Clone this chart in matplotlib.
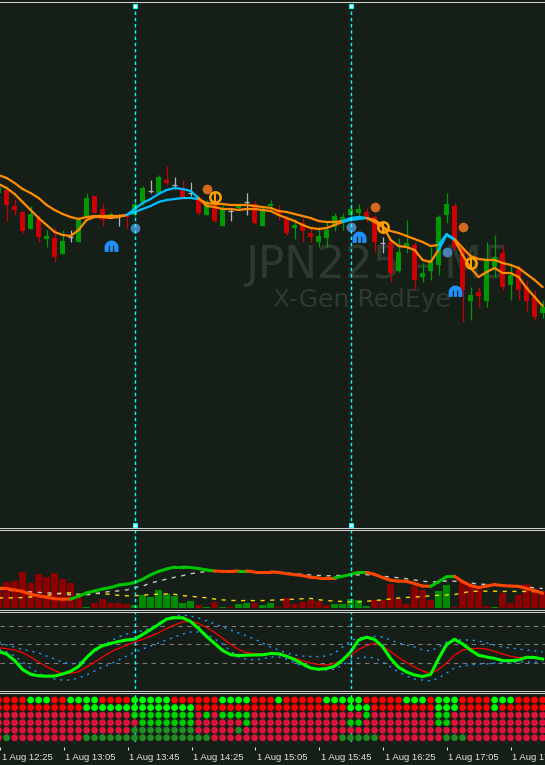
import numpy as np
import matplotlib
matplotlib.use('Agg')
import matplotlib.pyplot as plt
from matplotlib.collections import LineCollection
from matplotlib.path import Path
from matplotlib.lines import Line2D
import matplotlib.transforms as mtransforms

W, H = 545, 765
BG = '#161f17'

# ---------------- data ----------------
tick_bars = [0, 8, 16, 24, 32, 40, 48, 56, 64]
tick_labels = ['1 Aug 12:25', '1 Aug 13:05', '1 Aug 13:45', '1 Aug 14:25', '1 Aug 15:05',
               '1 Aug 15:45', '1 Aug 16:25', '1 Aug 17:05', '1 Aug 17:45']
vline_bars = [17, 44]

opens = [27807, 27810, 27794, 27788, 27771, 27781, 27761, 27762, 27746, 27763,
         27758, 27784, 27804, 27791, 27784, 27784, 27786, 27785, 27798, 27809,
         27807, 27820, 27815, 27811, 27807, 27801, 27785, 27795, 27774, 27789,
         27792, 27798, 27796, 27774, 27794, 27790, 27781, 27772, 27777, 27767,
         27758, 27762, 27773, 27779, 27785, 27787, 27788, 27783, 27757, 27758,
         27729, 27753, 27755, 27723, 27729, 27735, 27785, 27794, 27752, 27699,
         27708, 27699, 27733, 27747, 27715, 27731, 27713, 27703, 27687]
highs = [27816, 27810, 27801, 27789, 27794, 27785, 27770, 27772, 27770, 27770,
         27782, 27807, 27804, 27796, 27788, 27786, 27787, 27800, 27814, 27820,
         27825, 27834, 27823, 27820, 27818, 27803, 27800, 27797, 27795, 27791,
         27796, 27807, 27799, 27794, 27800, 27795, 27784, 27781, 27782, 27773,
         27773, 27779, 27787, 27787, 27796, 27796, 27792, 27785, 27763, 27760,
         27762, 27780, 27758, 27737, 27753, 27785, 27807, 27797, 27753, 27713,
         27713, 27758, 27765, 27755, 27737, 27735, 27720, 27710, 27700]
lows = [27804, 27779, 27785, 27767, 27771, 27758, 27753, 27738, 27746, 27758,
        27758, 27784, 27787, 27774, 27782, 27774, 27772, 27784, 27795, 27807,
        27807, 27815, 27811, 27802, 27804, 27785, 27785, 27778, 27774, 27779,
        27790, 27785, 27776, 27774, 27793, 27780, 27765, 27761, 27758, 27758,
        27753, 27753, 27769, 27770, 27783, 27783, 27778, 27748, 27747, 27718,
        27728, 27747, 27710, 27718, 27720, 27725, 27777, 27750, 27678, 27680,
        27693, 27693, 27723, 27710, 27700, 27700, 27688, 27680, 27682]
closes = [27813, 27795, 27790, 27769, 27786, 27763, 27764, 27743, 27759, 27763,
          27780, 27802, 27787, 27780, 27786, 27784, 27783, 27796, 27812, 27809,
          27823, 27817, 27815, 27803, 27807, 27787, 27797, 27779, 27792, 27789,
          27795, 27798, 27777, 27790, 27796, 27785, 27767, 27775, 27769, 27763,
          27764, 27770, 27784, 27783, 27791, 27791, 27782, 27758, 27757, 27727,
          27748, 27757, 27720, 27727, 27740, 27783, 27796, 27753, 27710, 27705,
          27704, 27740, 27743, 27713, 27725, 27710, 27699, 27683, 27693]

slow_ma = [27825, 27822, 27817, 27811, 27807, 27802, 27795, 27790, 27786, 27783,
           27781, 27783, 27784, 27784, 27784, 27784, 27785, 27788, 27791, 27794,
           27798, 27800, 27801, 27802, 27802, 27801, 27797, 27796, 27796, 27795,
           27795, 27795, 27794, 27793, 27792, 27789, 27788, 27786, 27784, 27782,
           27779, 27778, 27778, 27779, 27782, 27783, 27782, 27778, 27773, 27769,
           27767, 27764, 27761, 27758, 27754, 27755, 27766, 27761, 27752, 27744,
           27741, 27740, 27740, 27737, 27735, 27732, 27726, 27720, 27713]
fast_ma = [27816, 27812, 27806, 27798, 27790, 27782, 27775, 27768, 27765, 27764,
           27770, 27780, 27783, 27783, 27782, 27783, 27785, 27791, 27797, 27801,
           27806, 27810, 27812, 27811, 27809, 27802, 27794, 27793, 27791, 27791,
           27790, 27791, 27791, 27790, 27789, 27785, 27782, 27779, 27775, 27772,
           27771, 27772, 27775, 27778, 27780, 27781, 27782, 27780, 27775, 27760,
           27754, 27753, 27750, 27740, 27738, 27750, 27765, 27760, 27745, 27732,
           27723, 27728, 27732, 27727, 27727, 27723, 27712, 27703, 27694]
ma_up_ranges = [(16, 25), (43, 46), (55, 57)]

buy_dot_bars = [17, 44, 56]
buy_dot_prices = [27772, 27773, 27748]
sell_dot_bars = [26, 47, 58]
sell_dot_prices = [27811, 27793, 27773]
ring_bars = [27, 48, 59]
ring_prices = [27803, 27773, 27737]
arch_bars = [14, 45, 57]
arch_prices = [27753, 27762, 27708]

# sub window 1
hist = [17.4, 26.4, 27.5, 36.8, 25.4, 34.8, 31.6, 35.8, 29.5, 25.4,
        10.8, 1.4, 5.6, 9.7, 5.6, 5.6, 4.2, 3.5, 12.9, 10.8,
        18.1, 13.9, 11.8, 5.6, 7.6, 3.5, 1.4, 6.6, 1, 1,
        4.5, 5.6, 5.6, 3.5, 5.6, 1, 10.4, 4.2, 6.6, 8.7,
        7.3, 3.5, 4.2, 4.2, 9.4, 8.3, 2.1, 8.3, 8.3, 24.3,
        9.7, 4.2, 22.9, 18.1, 8.3, 17, 23.3, 1.4, 27.8, 23.3,
        21.6, 2.1, 1.4, 15, 5.6, 12.9, 24.3, 19.5, 17.4]
hist_green = [11, 17, 18, 19, 20, 21, 22, 23, 24, 26, 28, 30, 31, 33, 34,
              42, 43, 44, 45, 46, 55, 56, 62]
power = [20.5, 20, 18.5, 17, 14, 12.5, 11, 9.5, 9, 9.2,
         12, 15.5, 17.5, 19.5, 21, 23.5, 24.5, 26, 29.5, 34,
         37.5, 40, 42, 42, 41.5, 40.5, 39, 38, 37.5, 37.5,
         38, 38, 37, 37, 37, 36.5, 35.2, 34.2, 33.2, 31.5,
         31, 31, 31, 32.5, 34.5, 36.5, 36.5, 34.5, 31.2, 28.5,
         27.5, 27.4, 25, 22.5, 22.2, 27, 32, 32.5, 27, 23,
         21, 22.5, 24, 23, 22.5, 22.2, 20, 18, 15]
power_up_ranges = [(10, 27), (31, 31), (43, 46), (55, 57)]
power_signal = [19.5, 18.5, 17.5, 17, 16.5, 16, 15.5, 15.2, 14.5, 13.5,
                13, 13.5, 14.5, 16, 17, 17.5, 18.5, 21, 22.5, 25.5,
                27.7, 29.5, 31.5, 33.2, 35.2, 36.4, 37.4, 37.7, 37.6, 37.5,
                37.7, 37.8, 37.5, 37, 36.6, 36.2, 35.7, 35.2, 34.4, 33.8,
                33.4, 33, 33.2, 33.5, 33.7, 34, 34.2, 33.5, 32.6, 31.7,
                31, 30, 28.7, 27.5, 26.7, 27, 27.7, 27.5, 26.7, 25.7,
                24.5, 24.2, 24, 23.5, 22.8, 22.3, 21.5, 20.7, 20]
power_level = [10.4, 10.4, 10.4, 10.7, 11.3, 12, 13, 14, 15.5, 15.5,
               14, 14.5, 15.1, 14.6, 14, 13, 12.5, 12.6, 13.2, 13.8,
               14.2, 14.5, 14, 12.7, 12, 11.3, 10.5, 9.2, 8.3, 7.8,
               7.6, 7.6, 7.6, 7.6, 8, 8.3, 8.6, 9, 9.5, 9.8,
               8.5, 7.6, 7, 6.7, 6.4, 6.2, 6.8, 7.8, 8.3, 9.2,
               10.2, 10.8, 11.2, 11.8, 12.5, 13, 13.3, 13.8, 15.5, 17,
               17.2, 17.3, 17.2, 17, 17, 17, 17, 16.8, 16.6]

# sub window 2
osc_fast = [-7.5, -10, -16.5, -25.5, -30.3, -31.8, -32.2, -32, -30, -27.3,
            -22.5, -13.5, -6, -1.7, 0.5, 2.5, 4, 4.8, 9.5, 14.5,
            19.5, 25, 26.3, 26.2, 22.5, 15.5, 7.5, 0.5, -6.5, -10.7,
            -11.6, -11.2, -11, -10.8, -9.5, -9.8, -12.2, -15.6, -20, -24,
            -25.3, -24.5, -22.2, -16, -8, 4, 6.8, 4.5, -2.7, -14.5,
            -23.3, -28, -31, -32.5, -30.5, -14.5, -0.5, 4.7, 0, -6,
            -11.3, -13, -14.4, -16.6, -16.7, -16, -13.3, -13.5, -15]
osc_slow = [-3.6, -4.7, -6, -8.7, -13, -18, -22.7, -26.5, -29.7, -29.3,
            -27.7, -23, -18, -13, -8, -4.5, -1.2, 2, 4.7, 7.7,
            11.3, 15.5, 19, 22, 22.8, 20.5, 16.5, 11.5, 5.8, -0.5,
            -5.5, -8.7, -9.5, -10, -10.2, -10.3, -12, -14.3, -16.7, -19,
            -20.5, -21, -19.5, -16, -11.5, -5.5, -1.5, 0.5, -2, -7.5,
            -13.5, -18.5, -23, -27, -29.3, -25.5, -19, -11, -6, -4.8,
            -4.3, -5, -7.5, -10, -12.3, -13.6, -13.7, -13.7, -14.2]
band_upper = [2, -1, -3, -5.5, -7, -9, -12, -15, -18, -20,
              -19, -14, -8, -2, 3, 7, 10, 12, 13, 16,
              21, 25, 28, 29, 28, 26, 23, 20, 17, 14,
              11, 8, 5, 1, -3, -6, -9, -11, -12, -12.5,
              -12.5, -12, -9, -3, 3, 6, 7, 7.5, 7, 4,
              1, -1, -3, -6, -7, -3, 2, 4, 4, 4,
              3, 1, -1, -3, -4, -5, -6, -7, -8]
band_lower = [-5, -8, -12, -18, -24, -29, -33, -35, -36, -36,
              -34, -31, -27, -23, -20, -16, -12, -8, -5, -2,
              1, 4, 7, 10, 12, 12, 10, 5, 0, -7,
              -13, -15, -16, -15, -13, -13, -15, -19, -22, -24,
              -26, -26, -25, -21, -16, -14, -13, -14, -18, -23,
              -28, -32, -35, -36, -37, -34, -29, -24, -22, -21,
              -20, -20, -19, -19, -19, -18, -18, -18, -18]
osc_levels = [18.5, 0, -18.5]

# sub window 3: rows of signal dots, bars where each row is bullish
dot_rows_up = [
    [(4, 6), (9, 12), (17, 21), (28, 31), (35, 35), (41, 45), (51, 53), (55, 57), (62, 64)],
    [(11, 24), (44, 46), (55, 57), (62, 62)],
    [(17, 24), (26, 26), (28, 31), (46, 46), (55, 56)],
    [(18, 24), (31, 31), (44, 45), (55, 56)],
    [(17, 24), (30, 30)],
    [(1, 1), (11, 26), (43, 47), (56, 58)],
]
dot_row_colors = [('#ff0000', '#00ff00'), ('#ff0000', '#00ff00'), ('#dc143c', '#00d400'),
                  ('#dc143c', '#00c800'), ('#dc143c', '#228b22'), ('#dc143c', '#228b22')]

# ---------------- helpers ----------------
n = len(closes)
x = np.arange(n)
XLIM = (0.175, 68.3)


def mask(ranges):
    m = np.zeros(n, bool)
    for a, b in ranges:
        m[a:b + 1] = True
    return m


def pane(top, bottom):
    ax = fig.add_axes([0, 1 - bottom / H, 1, (bottom - top) / H])
    ax.set_xlim(*XLIM)
    ax.set_axis_off()
    return ax


def colored_line(ax, y, on, c_on, c_off, lw, both=True, z=3):
    pts = np.column_stack([x, y])
    segs = np.stack([pts[:-1], pts[1:]], axis=1)
    if both:
        cols = [c_on if on[i] and on[i + 1] else c_off for i in range(n - 1)]
    else:
        cols = [c_on if on[i + 1] else c_off for i in range(n - 1)]
    ax.add_collection(LineCollection(segs, colors=cols, linewidths=lw,
                                     capstyle='round', joinstyle='round', zorder=z))


def cyan_lines(ax, z):
    for b in vline_bars:
        ax.axvline(b, color='#00ffff', lw=1.0, ls=(0, (2.5, 2)), zorder=z)


fig = plt.figure(figsize=(W / 100, H / 100), dpi=100, facecolor=BG)

# ---------------- main chart ----------------
ax = pane(2, 527)
ax.set_ylim(27473, 27998)

ax.text(245 / W, 1 - 278 / H, 'JPN225 - M5', transform=fig.transFigure, fontsize=31.5,
        color='#2e392f', family='DejaVu Sans', va='baseline', zorder=0.5)
ax.text(273 / W, 1 - 307 / H, 'X-Gen RedEye', transform=fig.transFigure, fontsize=18,
        color='#2e392f', family='DejaVu Sans', va='baseline', zorder=0.5)

o, h, l, c = map(np.array, (opens, highs, lows, closes))
col = np.where(c > o, '#009a00', np.where(c < o, '#cc0000', '#b4b4b4'))
doji = c == o
ax.vlines(x, l, h, colors=col, lw=0.9, zorder=2)
ax.bar(x[~doji], np.abs(c - o)[~doji], bottom=np.minimum(o, c)[~doji], width=0.62,
       color=col[~doji], lw=0, zorder=2)
ax.hlines(o[doji], x[doji] - 0.35, x[doji] + 0.35, colors='#b4b4b4', lw=0.9, zorder=2)

ma_up = mask(ma_up_ranges)
colored_line(ax, slow_ma, ma_up, '#00bfff', '#ff8c00', 1.6)
colored_line(ax, fast_ma, ma_up, '#00bfff', '#ff8c00', 1.6)

ax.plot(buy_dot_bars, buy_dot_prices, 'o', ms=6, color='#4a80b8', zorder=5)
ax.plot(sell_dot_bars, sell_dot_prices, 'o', ms=6, color='#d2691e', zorder=5)
ax.plot(ring_bars, ring_prices, 'o', ms=7.5, mfc='none', mec='#ffa000', mew=1.8, zorder=5)
ax.plot(ring_bars, ring_prices, '|', ms=7.5, mec='#ffa000', mew=1.5, zorder=5)

t = np.linspace(0, np.pi, 24)
outer = list(zip(np.cos(t), np.sin(t)))
inner = list(zip(0.55 * np.cos(t[::-1]), 0.55 * np.sin(t[::-1])))
arch_v = [(1, -0.6)] + outer + [(-1, -0.6), (-0.55, -0.6)] + inner + [(0.55, -0.6), (1, -0.6)]
stem_v = [(-0.13, -0.6), (0.13, -0.6), (0.13, 0.6), (-0.13, 0.6), (-0.13, -0.6)]
arch_codes = [Path.MOVETO] + [Path.LINETO] * (len(arch_v) - 2) + [Path.CLOSEPOLY]
stem_codes = [Path.MOVETO] + [Path.LINETO] * 3 + [Path.CLOSEPOLY]
arch_marker = Path(arch_v + stem_v, arch_codes + stem_codes)
ax.plot(arch_bars, arch_prices, ls='none', marker=arch_marker, ms=9, color='#1e90ff', zorder=5)

cyan_lines(ax, 6)
trans = mtransforms.blended_transform_factory(ax.transData, ax.transAxes)
for yy in (0.993, 0.004):
    ax.plot(vline_bars, [yy, yy], 's', ms=3.2, mfc='white', mec='#00ffff', mew=0.8,
            transform=trans, zorder=7, clip_on=False)

# ---------------- sub window 1 ----------------
ax1 = pane(530, 608)
ax1.set_ylim(0, 80)
hg = np.zeros(n, bool)
hg[hist_green] = True
ax1.bar(x, hist, width=0.8, color=np.where(hg, '#008c00', '#8b0000'), lw=0, zorder=1)
ax1.plot(x, power_level, color='#ffd700', lw=1, ls=(0, (3, 4)), zorder=2)
ax1.plot(x, power_signal, color='#c8c8c8', lw=1, ls=(0, (3, 4)), zorder=2)
colored_line(ax1, power, mask(power_up_ranges), '#00c400', '#ff4500', 2.2, both=False)
cyan_lines(ax1, 6)

# ---------------- sub window 2 ----------------
ax2 = pane(612, 689)
ax2.set_ylim(-45, 32)
for lv in osc_levels:
    ax2.axhline(lv, color='#7a7a7a', lw=0.8, ls=(0, (4, 4)), zorder=1)
ax2.plot(x, band_upper, color='#1e9bff', lw=1, ls=(0, (1.5, 3.5)), zorder=2)
ax2.plot(x, band_lower, color='#1e9bff', lw=1, ls=(0, (1.5, 3.5)), zorder=2)
ax2.plot(x, osc_slow, color='#ff0000', lw=0.9, zorder=3)
ax2.plot(x, osc_fast, color='#00ff00', lw=2.2, zorder=4)
cyan_lines(ax2, 6)

# ---------------- sub window 3 ----------------
ax3 = pane(693, 742)
ax3.set_ylim(0.44, 6.93)
cyan_lines(ax3, 1)
for r, (ranges, (c_dn, c_up)) in enumerate(zip(dot_rows_up, dot_row_colors)):
    up = mask(ranges)
    ax3.scatter(x, np.full(n, 6 - r), s=24, c=np.where(up, c_up, c_dn), lw=0, zorder=3)

# ---------------- time scale ----------------
axt = fig.add_axes([0, 1 - 747 / H, 1, 4 / H])
axt.set_xlim(*XLIM)
axt.set_facecolor(BG)
for s in axt.spines.values():
    s.set_visible(False)
axt.set_yticks([])
axt.set_xticks(tick_bars)
axt.set_xticklabels(tick_labels, family='Liberation Sans', fontsize=6.8, color='#e4e4e4')
axt.tick_params(axis='x', direction='out', length=2.5, width=0.8, color='#e4e4e4', pad=1.5)
shift = mtransforms.ScaledTranslation(1.5 / 100, 0, fig.dpi_scale_trans)
for lbl in axt.get_xticklabels():
    lbl.set_ha('left')
    lbl.set_transform(lbl.get_transform() + shift)

# ---------------- window borders ----------------
for yy in (1.5, 527.5, 529.5, 609.5, 611.5, 690.5, 692.5):
    fig.add_artist(Line2D([0, 1], [1 - yy / H] * 2, transform=fig.transFigure,
                          color='#cfcfcf', lw=0.75))

fig.savefig('out.png', dpi=100, facecolor=BG)
